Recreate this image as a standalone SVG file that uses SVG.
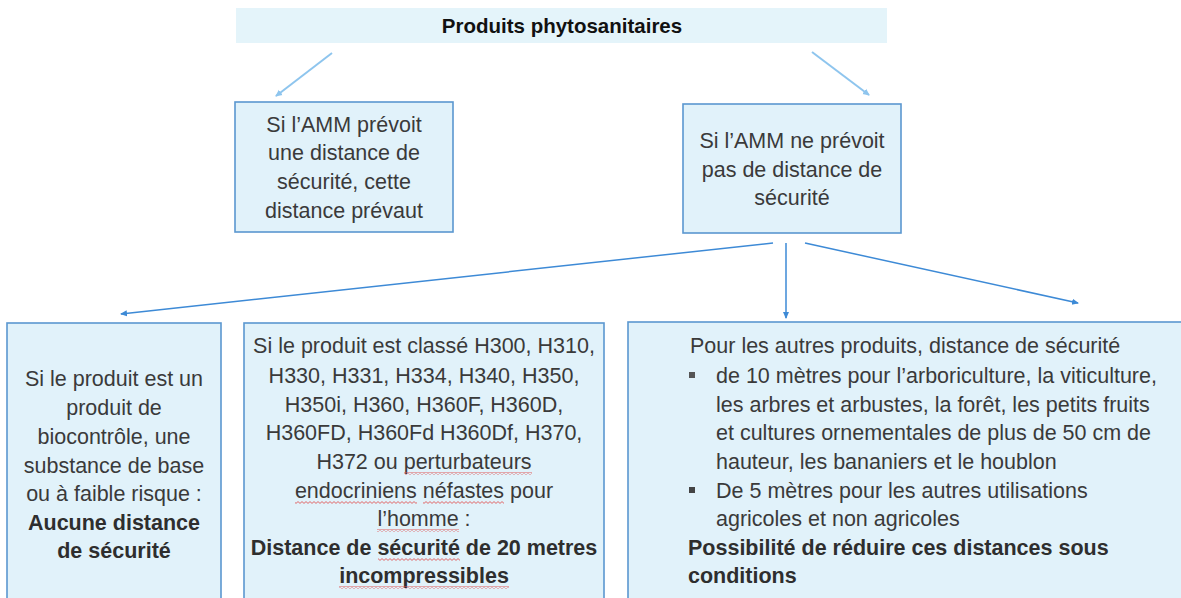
<svg xmlns="http://www.w3.org/2000/svg" width="1181" height="598" viewBox="0 0 1181 598">
<defs>
<style>
.box{fill:#e1f2fa;stroke:#5b97d0;stroke-width:1.6}
.t{font-family:"Liberation Sans",Arial,sans-serif;font-size:21.5px;fill:#3a3a3a}
.c{text-anchor:middle}
.b{font-weight:bold;fill:#2e2e2e}
.title{font-family:"Liberation Sans",Arial,sans-serif;font-size:20.5px;font-weight:bold;fill:#111;text-anchor:middle}
.lt{stroke:#8ec5ee;stroke-width:2;fill:none}
.dk{stroke:#3d8ad6;stroke-width:1.5;fill:none}
.wv{fill:url(#wavy)}
</style>
<marker id="ahL" markerWidth="8" markerHeight="8" refX="6" refY="4" orient="auto" markerUnits="userSpaceOnUse">
<path d="M0,0.8 L7,4 L0,7.2 Z" fill="#8ec5ee"/>
</marker>
<marker id="ahD" markerWidth="8" markerHeight="8" refX="6" refY="4" orient="auto" markerUnits="userSpaceOnUse">
<path d="M0,1 L7,4 L0,7 Z" fill="#3d8ad6"/>
</marker>
<pattern id="wavy" x="0" y="0" width="4" height="3" patternUnits="userSpaceOnUse">
<path d="M0,2.4 L2,0.6 L4,2.4" stroke="#e05a5a" stroke-width="0.9" fill="none"/>
</pattern>
</defs>
<rect width="1181" height="598" fill="#ffffff"/>

<g id="title">
<rect x="236" y="8" width="651" height="35" fill="#e4f4fa"/>
<text class="title" x="562" y="33">Produits phytosanitaires</text>
</g>

<g id="connectors">
<line class="lt" x1="332" y1="53" x2="276" y2="96" marker-end="url(#ahL)"/>
<line class="lt" x1="812" y1="52" x2="869" y2="95" marker-end="url(#ahL)"/>
<line class="dk" x1="773" y1="243" x2="121" y2="314" marker-end="url(#ahD)"/>
<line class="dk" x1="786" y1="243" x2="786" y2="318" marker-end="url(#ahD)"/>
<line class="dk" x1="805" y1="243" x2="1078" y2="303" marker-end="url(#ahD)"/>
</g>

<g id="node-amm-prevoit">
<rect class="box" x="235" y="102" width="218" height="130"/>
<text class="t c" x="344" y="132">Si l’AMM prévoit</text>
<text class="t c" x="344" y="160">une distance de</text>
<text class="t c" x="344" y="189">sécurité, cette</text>
<text class="t c" x="344" y="218">distance prévaut</text>
</g>

<g id="node-amm-ne-prevoit">
<rect class="box" x="683" y="104" width="218" height="129"/>
<text class="t c" x="792" y="148">Si l’AMM ne prévoit</text>
<text class="t c" x="792" y="177">pas de distance de</text>
<text class="t c" x="792" y="205">sécurité</text>
</g>

<g id="node-biocontrole">
<rect class="box" x="7" y="323" width="214" height="290"/>
<text class="t c" x="114" y="386">Si le produit est un</text>
<text class="t c" x="114" y="415">produit de</text>
<text class="t c" x="114" y="444">biocontrôle, une</text>
<text class="t c" x="114" y="473">substance de base</text>
<text class="t c" x="114" y="501">ou à faible risque :</text>
<text class="t c b" x="114" y="530">Aucune distance</text>
<text class="t c b" x="114" y="558">de sécurité</text>
</g>

<g id="node-classe-h">
<rect class="box" x="244" y="323" width="360" height="290"/>
<text class="t c" x="424" y="353">Si le produit est classé H300, H310,</text>
<text class="t c" x="424" y="383">H330, H331, H334, H340, H350,</text>
<text class="t c" x="424" y="412">H350i, H360, H360F, H360D,</text>
<text class="t c" x="424" y="440">H360FD, H360Fd H360Df, H370,</text>
<text class="t c" x="424" y="469">H372 ou perturbateurs</text>
<text class="t c" x="424" y="498">endocriniens néfastes pour</text>
<text class="t c" x="424" y="526">l’homme :</text>
<text class="t c b" x="424" y="555">Distance de sécurité de 20 metres</text>
<text class="t c b" x="424" y="583">incompressibles</text>
<rect class="wv" x="404" y="472" width="128" height="3"/>
<rect class="wv" x="295" y="501" width="122" height="3"/>
<rect class="wv" x="423" y="501" width="81" height="3"/>
<rect class="wv" x="377" y="529" width="82" height="3"/>
<rect class="wv" x="378" y="558" width="82" height="3"/>
<rect class="wv" x="339" y="586" width="170" height="3"/>
</g>

<g id="node-autres-produits">
<rect class="box" x="628" y="322" width="570" height="291"/>
<text class="t" x="690" y="353">Pour les autres produits, distance de sécurité</text>
<rect x="689" y="372" width="6" height="6" fill="#555"/>
<text class="t" x="716" y="383">de 10 mètres pour l’arboriculture, la viticulture,</text>
<text class="t" x="716" y="412">les arbres et arbustes, la forêt, les petits fruits</text>
<text class="t" x="716" y="440">et cultures ornementales de plus de 50 cm de</text>
<text class="t" x="716" y="469">hauteur, les bananiers et le houblon</text>
<rect x="689" y="487" width="6" height="6" fill="#444"/>
<text class="t" x="716" y="498">De 5 mètres pour les autres utilisations</text>
<text class="t" x="716" y="526">agricoles et non agricoles</text>
<text class="t b" x="688" y="555">Possibilité de réduire ces distances sous</text>
<text class="t b" x="688" y="583">conditions</text>
</g>
</svg>
